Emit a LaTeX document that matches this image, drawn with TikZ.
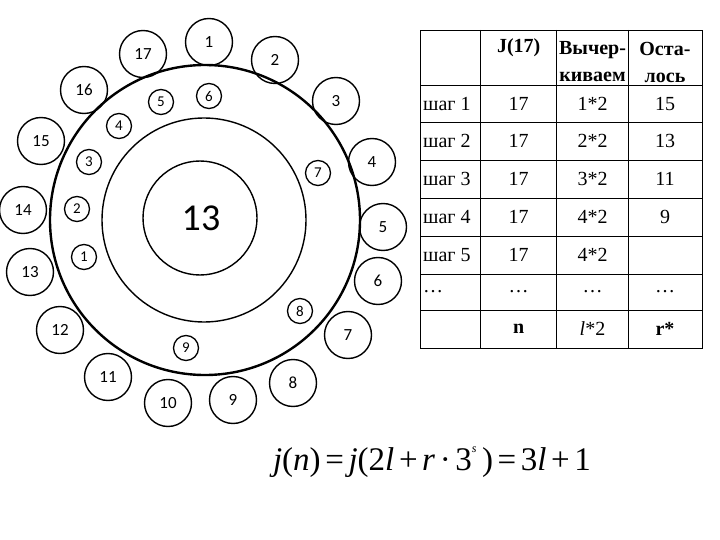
\documentclass[tikz,border=0pt]{standalone}
\usepackage{fontspec}
\usepackage{tikz}
\usetikzlibrary{positioning}
\setmainfont{Liberation Serif}
\newfontfamily\circfont{Carlito}
\newcommand{\gap}{\hspace{0.14em}}

\begin{document}
\begin{tikzpicture}[
  x=1pt, y=-1pt,
  bigring/.style={line width=2.4pt},
  ring/.style={line width=1.4pt},
  outer num/.style={circle, draw, line width=1.4pt, minimum size=47pt, inner sep=0pt, font=\circfont\fontsize{17}{17}\selectfont},
  inner num/.style={circle, draw, line width=1.3pt, minimum size=25pt, inner sep=0pt, font=\circfont\fontsize{15}{15}\selectfont},
  cell/.style={inner sep=0pt, font=\fontsize{20}{24}\selectfont},
  head/.style={inner sep=0pt, align=center, font=\bfseries\fontsize{20}{27}\selectfont},
  grid line/.style={line width=0.8pt}
]
\useasboundingbox (0,0) rectangle (720,540);

% the three rings
\draw[bigring] (205,220) circle (155);
\draw[ring] (204,220) circle (102);
\draw[ring] (200,218) circle (57);
\node[font=\circfont\fontsize{38}{38}\selectfont] (centre) at (201,218) {13};

% outer circle of 17
\node[outer num] (o1)  at (209,42)  {1};
\node[outer num] (o2)  at (275,60)  {2};
\node[outer num] (o3)  at (336,101) {3};
\node[outer num] (o4)  at (372,162) {4};
\node[outer num] (o5)  at (383,227) {5};
\node[outer num] (o6)  at (378,281) {6};
\node[outer num] (o7)  at (348,335) {7};
\node[outer num] (o8)  at (293,383) {8};
\node[outer num] (o9)  at (233,400) {9};
\node[outer num] (o10) at (168,403) {10};
\node[outer num] (o11) at (108,377) {11};
\node[outer num] (o12) at (60,330)  {12};
\node[outer num] (o13) at (30,272)  {13};
\node[outer num] (o14) at (23,210)  {14};
\node[outer num] (o15) at (41,141)  {15};
\node[outer num] (o16) at (84,90)   {16};
\node[outer num] (o17) at (143,54)  {17};

% inner circle of 9
\node[inner num] (i1) at (84,257)  {1};
\node[inner num] (i2) at (77,209)  {2};
\node[inner num] (i3) at (89,162)  {3};
\node[inner num] (i4) at (119,126) {4};
\node[inner num] (i5) at (161,102) {5};
\node[inner num] (i6) at (209,96)  {6};
\node[inner num] (i7) at (318,173) {7};
\node[inner num] (i8) at (300,311) {8};
\node[inner num] (i9) at (186,348) {9};

% table
\draw[grid line] (420,30) rectangle (702,348);
\foreach \xx in {480.7,556.7,628.3}
  \draw[grid line] (\xx,30) -- (\xx,348);
\foreach \yy in {85,122.7,160,198,236,274,310.7}
  \draw[grid line] (420,\yy) -- (702,\yy);

\node[head] (hj)   at (518.7,48)   {J(17)};
\node[head] (hout) at (592.5,62) {Вычер-\\киваем};
\node[head] (hrem) at (665,62)   {Оста-\\лось};

\node[cell, anchor=west] (s1) at (423,104)   {шаг 1};
\node[cell, anchor=west] (s2) at (423,141.3) {шаг 2};
\node[cell, anchor=west] (s3) at (423,179)   {шаг 3};
\node[cell, anchor=west] (s4) at (423,217)   {шаг 4};
\node[cell, anchor=west] (s5) at (423,255)   {шаг 5};
\node[cell, anchor=west] (s6) at (423,292)   {…};

\node[cell] (j1) at (518.7,104)   {17};
\node[cell] (j2) at (518.7,141.3) {17};
\node[cell] (j3) at (518.7,179)   {17};
\node[cell] (j4) at (518.7,217)   {17};
\node[cell] (j5) at (518.7,255)   {17};
\node[cell] (j6) at (518.7,292)   {…};
\node[cell] (j7) at (518.7,329)   {\textbf{n}};

\node[cell] (x1) at (592.5,104)   {1*2};
\node[cell] (x2) at (592.5,141.3) {2*2};
\node[cell] (x3) at (592.5,179)   {3*2};
\node[cell] (x4) at (592.5,217)   {4*2};
\node[cell] (x5) at (592.5,255)   {4*2};
\node[cell] (x6) at (592.5,292)   {…};
\node[cell] (x7) at (592.5,329)   {\textit{l}*2};

\node[cell] (r1) at (665,104)   {15};
\node[cell] (r2) at (665,141.3) {13};
\node[cell] (r3) at (665,179)   {11};
\node[cell] (r4) at (665,217)   {9};
\node[cell] (r6) at (665,292)   {…};
\node[cell] (r7) at (665,329)   {\textbf{r*}};

% formula
\node[font=\fontsize{33}{33}\selectfont] (formula) at (432,462)
  {\textit{j}(\textit{n})\gap=\gap\textit{j}(2\textit{l}\gap+\gap\textit{r}\gap·\gap3\raisebox{1.2ex}{\fontsize{12}{12}\selectfont\textit{s}}\,)\gap=\gap3\textit{l}\gap+\gap1};
\end{tikzpicture}
\end{document}
